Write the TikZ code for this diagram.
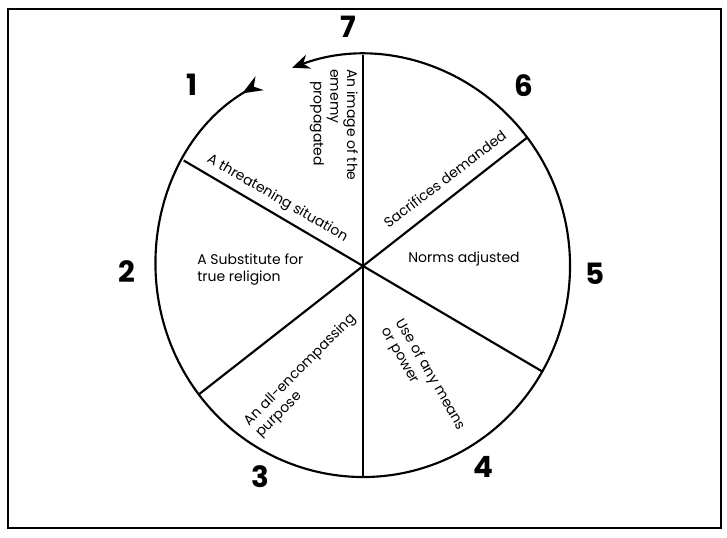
\documentclass[tikz,border=0pt]{standalone}
\usepackage{fontspec}
\setmainfont{Poppins}
\usetikzlibrary{arrows.meta,calc}

\begin{document}
\begin{tikzpicture}[x=0.75pt,y=0.75pt,
    spoke/.style={line width=1.6pt},
    lbl/.style={font=\fontsize{10.5}{12.5}\selectfont,inner sep=0pt},
    num/.style={font=\fontsize{22}{24}\selectfont\bfseries,inner sep=0pt}]
  \useasboundingbox (0,0) rectangle (727,538);
  \draw[line width=1.2pt] (8,10) rectangle (721,529);
  \coordinate (C) at (363,272);
  % wheel with its arrow
  \draw[spoke,{Stealth[reversed,length=15pt,width=12pt,inset=5pt]}-{Stealth[length=13pt,width=11pt]}]
    ($(C)+(120:207 and 211)$) arc[start angle=120,end angle=470,x radius=207,y radius=211];
  \foreach \a in {90,150,217.5,270,330,37.5}
    \draw[spoke] (C) -- ($(C)+(\a:207 and 211)$);
  % sector texts
  \node[lbl,rotate=-90,anchor=north west,align=left] (enemy) at (358,469)
    {An image of the\\ememy\\\hspace*{9pt}propagated};
  \node[lbl,rotate=-30,anchor=base] (threat) at ($(C)+(150:108)+(60:12)$) {A threatening situation};
  \node[lbl,rotate=37.5,anchor=base] (sacr) at ($(C)+(37.5:118)+(127.5:14)$) {Sacrifices demanded};
  \node[lbl] (norms) at (464,279) {Norms adjusted};
  \node[lbl,anchor=north west,align=left] (subst) at (197,284) {A Substitute for\\true religion};
  \node[lbl,rotate=45,align=left] (purp) at (306,162) {An all-encompassing\\purpose};
  \node[lbl,rotate=-60,align=left] (means) at (423,159) {Use of any means\\or power};
  % step numbers
  \node[num] (n1) at (192,453) {1};
  \node[num] (n2) at (127,266) {2};
  \node[num] (n3) at (260,61) {3};
  \node[num] (n4) at (483,71) {4};
  \node[num] (n5) at (595,264) {5};
  \node[num] (n6) at (524,452) {6};
  \node[num] (n7) at (348,511) {7};
\end{tikzpicture}
\end{document}
